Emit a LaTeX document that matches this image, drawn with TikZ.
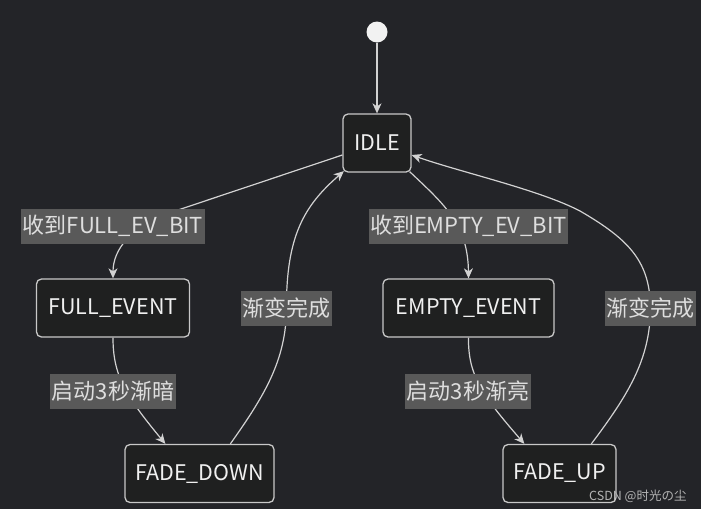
\documentclass[tikz,border=0pt]{standalone}
\usepackage{fontspec}
\setmainfont{Noto Sans CJK SC}
\usetikzlibrary{arrows.meta}
\definecolor{bgcol}{HTML}{232428}
\definecolor{nodefill}{HTML}{1F2020}
\definecolor{nodeborder}{HTML}{C8C8C8}
\definecolor{nodetext}{HTML}{F0F0F0}
\definecolor{edgecol}{HTML}{D2D2D2}
\definecolor{lblfill}{HTML}{595959}
\definecolor{lbltext}{HTML}{DEDEDE}
\definecolor{startcol}{HTML}{F2F2F2}
\definecolor{wmcol}{HTML}{B4B4B4}
\pgfdeclarelayer{bglayer}
\pgfdeclarelayer{edgelayer}
\pgfsetlayers{bglayer,edgelayer,main}
\begin{document}
\begin{tikzpicture}[x=1pt,y=-1pt,
  state/.style={draw=nodeborder, line width=1.3pt, fill=nodefill, rounded corners=5pt,
    minimum height=58pt, inner xsep=0pt, text=nodetext, font=\fontsize{21.5}{24}\selectfont},
  lbl/.style={fill=lblfill, text=lbltext, inner xsep=1.5pt, inner ysep=0pt,
    minimum height=35pt, font=\fontsize{22}{24}\selectfont},
  edge/.style={draw=edgecol, line width=1.2pt, -{Stealth[length=10pt,width=9pt,inset=3pt]}}
]
\begin{pgfonlayer}{bglayer}
\fill[bgcol] (0,0) rectangle (701,509);
\end{pgfonlayer}
\useasboundingbox (0,0) rectangle (701,509);

\node[circle, fill=startcol, minimum size=21pt, inner sep=0pt] (start) at (377,32) {};
\node[state, minimum width=68pt] (idle) at (377,143) {IDLE};
\node[state, minimum width=153pt] (full) at (113,308) {FULL\_EVENT};
\node[state, minimum width=171pt] (empty) at (468.5,308) {EMPTY\_EVENT};
\node[state, minimum width=149pt] (fdown) at (199.5,473.5) {FADE\_DOWN};
\node[state, minimum width=113pt] (fup) at (559.5,473.5) {FADE\_UP};

\node[lbl] (l1) at (113,226) {收到FULL\_EV\_BIT};
\node[lbl] (l2) at (468.5,226) {收到EMPTY\_EV\_BIT};
\node[lbl] (l3) at (286.5,308.5) {渐变完成};
\node[lbl] (l4) at (650.5,308.5) {渐变完成};
\node[lbl] (l5) at (113,391) {启动3秒渐暗};
\node[lbl] (l6) at (468,391) {启动3秒渐亮};

\node[anchor=west, text=wmcol, font=\fontsize{12.5}{14}\selectfont, inner sep=0pt] (wm) at (589,496) {CSDN @时光の尘};

\begin{pgfonlayer}{edgelayer}
\draw[edge] (start) -- (idle);
\draw[edge] ([yshift=-12pt]idle.west) -- (175,211) .. controls (130,226) and (113,250) .. (full.north);
\draw[edge] (full.south) .. controls (113,375) and (125,395) .. ([xshift=41pt]fdown.north west);
\draw[edge] ([xshift=106pt]fdown.north west) .. controls (265,395) and (286,360) .. (l3.center)
  .. controls (286,235) and (305,205) .. ([xshift=1.5pt,yshift=1.5pt]idle.south west);
\draw[edge] ([xshift=-2pt,yshift=1pt]idle.south east) .. controls (445,205) and (468,225) .. (empty.north);
\draw[edge] (empty.south) .. controls (468,375) and (482,395) .. ([xshift=22pt]fup.north west);
\draw[edge] ([xshift=89pt]fup.north west) .. controls (628,395) and (650,360) .. (l4.center)
  .. controls (650,262) and (630,240) .. (580,211)
  .. controls (540,190) and (460,172) .. ([yshift=-12pt]idle.east);
\end{pgfonlayer}
\end{tikzpicture}
\end{document}
